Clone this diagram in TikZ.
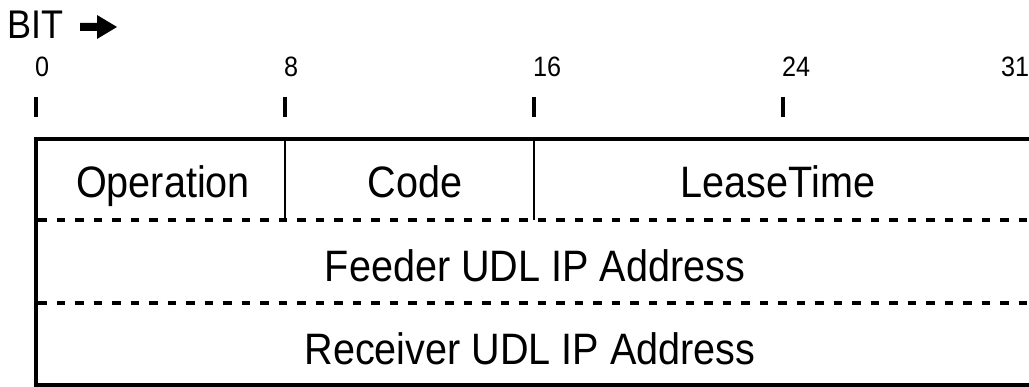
\documentclass[tikz,border=0pt]{standalone}
\usepackage{fontspec}
\newfontfamily\hv[FakeStretch=0.9]{Liberation Sans}
\begin{document}
\begin{tikzpicture}[x=1pt,y=-1pt,
  frame/.style={line width=4.2pt},
  divider/.style={line width=2.4pt},
  rowsep/.style={line width=4pt,dash pattern=on 8.5pt off 10pt},
  tickmark/.style={line width=4.5pt},
  field/.style={inner sep=0pt,anchor=base,font=\hv\fontsize{44}{50}\selectfont},
  bitnum/.style={inner sep=0pt,anchor=base west,font=\hv\fontsize{28}{32}\selectfont},
  heading/.style={inner sep=0pt,anchor=base west,font=\hv\fontsize{40}{46}\selectfont}]
\useasboundingbox (0,0) rectangle (1029,387);
\clip (0,0) rectangle (1029,387);

% heading and direction arrow
\node[heading] (bit) at (7,39) {BIT};
\fill (80,23) -- (97,23) -- (97,15) -- (117,27) -- (97,39) -- (97,31) -- (80,31) -- cycle;

% bit positions
\foreach \n/\x in {0/36,8/285,16/534,24/783} {
  \coordinate (t\n a) at (\x,97);
  \coordinate (t\n b) at (\x,117);
  \draw[tickmark] (t\n a) -- (t\n b);
  \node[bitnum] (n\n) at (\x-1,77) {\n};
}
\node[bitnum] (n31) at (1001,77) {31};

% outer frame (right edge lies beyond the page)
\coordinate (tl) at (36,139);
\coordinate (br) at (1045,385.5);
\draw[frame] (tl) rectangle (br);

% row separators
\coordinate (r1l) at (38,220);
\coordinate (r1r) at (1045,220);
\coordinate (r2l) at (38,303);
\coordinate (r2r) at (1045,303);
\draw[rowsep] (r1l) -- (r1r);
\draw[rowsep] (r2l) -- (r2r);

% field dividers in the first word
\coordinate (d8t) at (285,141);
\coordinate (d8b) at (285,220);
\coordinate (d16t) at (534,141);
\coordinate (d16b) at (534,220);
\draw[divider] (d8t) -- (d8b);
\draw[divider] (d16t) -- (d16b);

% field names
\node[field] (op) at (163,198) {Operation};
\node[field] (code) at (415,198) {Code};
\node[field] (lease) at (778,198) {LeaseTime};
\node[field] (feeder) at (535,282) {Feeder UDL IP Address};
\node[field] (recv) at (530,365) {Receiver UDL IP Address};
\end{tikzpicture}
\end{document}
